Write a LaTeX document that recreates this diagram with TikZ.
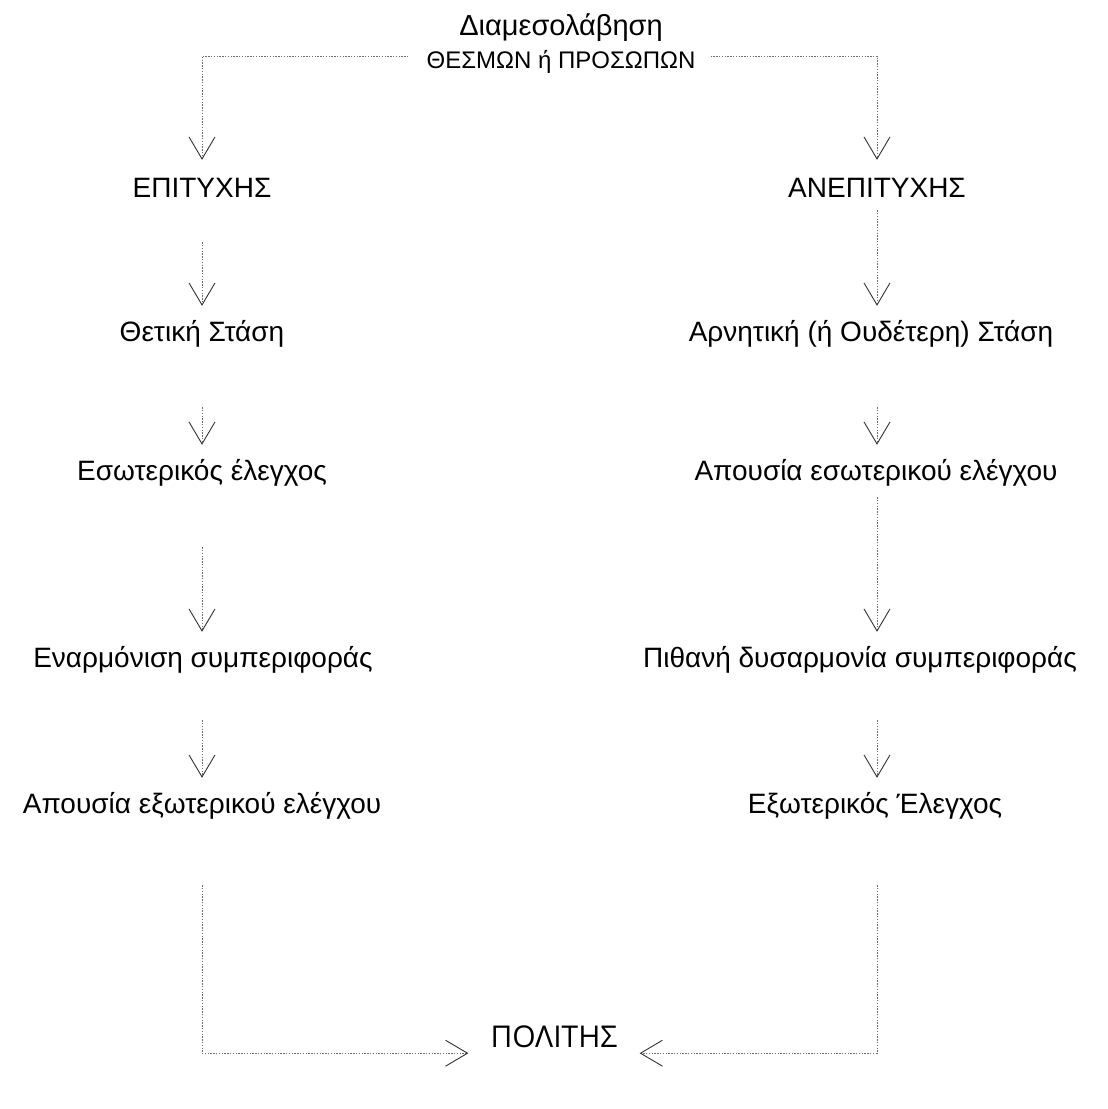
\documentclass[tikz,border=0pt]{standalone}
\usepackage{fontspec}
\setmainfont{Liberation Sans}
\newfontfamily\polfont{Open Sans}
\usetikzlibrary{arrows.meta}
\begin{document}
\begin{tikzpicture}[x=1pt,y=-1pt,
  txt/.style={inner sep=0pt,font=\fontsize{28}{30}\selectfont,text height=20pt,text depth=6pt,anchor=base},
  conn/.style={draw=gray!85!black,line width=0.9pt,dash pattern=on 1.4pt off 1.4pt,
    -{Straight Barb[length=22pt,width=26pt,line width=0.9pt,color=black!80]}}]
\useasboundingbox[fill=white] (0,0) rectangle (1108,1109);
\node[txt,font=\fontsize{29}{31}\selectfont] (title) at (561,35) {Διαμεσολάβηση};
\node[txt,font=\fontsize{24}{26}\selectfont,text height=17pt,text depth=5pt] (sub) at (561,68) {ΘΕΣΜΩΝ ή ΠΡΟΣΩΠΩΝ};
\node[txt] (L1) at (202,197) {ΕΠΙΤΥΧΗΣ};
\node[txt] (R1) at (877,197) {ΑΝΕΠΙΤΥΧΗΣ};
\node[txt] (L2) at (202,341) {Θετική Στάση};
\node[txt] (R2) at (871,341) {Αρνητική (ή Ουδέτερη) Στάση};
\node[txt] (L3) at (202,480) {Εσωτερικός έλεγχος};
\node[txt] (R3) at (876,480) {Απουσία εσωτερικού ελέγχου};
\node[txt] (L4) at (203,667) {Εναρμόνιση συμπεριφοράς};
\node[txt] (R4) at (860,667) {Πιθανή δυσαρμονία συμπεριφοράς};
\node[txt] (L5) at (202,813) {Απουσία εξωτερικού ελέγχου};
\node[txt] (R5) at (875,813) {Εξωτερικός Έλεγχος};
\node[txt,font=\polfont\fontsize{30}{32}\selectfont,text height=21pt] (P) at (554,1047) {ΠΟΛΙΤΗΣ};
% top split
\draw[conn,shorten <=18pt,shorten >=17pt] ([yshift=12pt]sub.base west) -| (L1.north);
\draw[conn,shorten <=15pt,shorten >=17pt] ([yshift=12pt]sub.base east) -| (R1.north);
% left column
\draw[conn,shorten <=39pt,shorten >=15pt] (L1.south) -- (L1.south |- L2.north);
\draw[conn,shorten <=60pt,shorten >=15pt] (L2.south) -- (L2.south |- L3.north);
\draw[conn,shorten <=61pt,shorten >=15pt] (L3.south) -- (L3.south |- L4.north);
\draw[conn,shorten <=47pt,shorten >=15pt] (L4.south -| L3.south) -- (L3.south |- L5.north);
% right column
\draw[conn,shorten <=7pt,shorten >=15pt] (R1.south) -- (R1.south |- R2.north);
\draw[conn,shorten <=60pt,shorten >=15pt] (R1.south |- R2.south) -- (R1.south |- R3.north);
\draw[conn,shorten <=11pt,shorten >=15pt] (R1.south |- R3.south) -- (R1.south |- R4.north);
\draw[conn,shorten <=47pt,shorten >=15pt] (R1.south |- R4.south) -- (R1.south |- R5.north);
% bottom join
\draw[conn,shorten <=66pt,shorten >=22pt] (L1.south |- L5.south) |- (P.south west);
\draw[conn,shorten <=66pt,shorten >=22pt] (R1.south |- R5.south) |- (P.south east);
\end{tikzpicture}
\end{document}
